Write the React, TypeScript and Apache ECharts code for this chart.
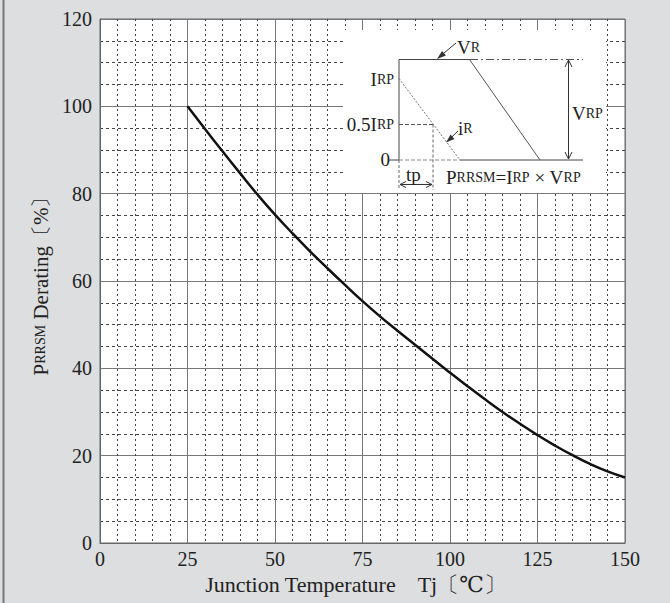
import React, { useEffect, useRef } from "react";
import * as echarts from "echarts";

const tj = [25, 30, 35, 40, 45, 50, 55, 60, 65, 70, 75, 80, 85, 90, 95, 100, 105, 110, 115, 120, 125, 130, 135, 140, 145, 150];
const derating = [100, 94.8, 89.7, 84.7, 79.8, 75.2, 70.9, 66.8, 62.9, 59.1, 55.4, 51.9, 48.6, 45.4, 42.2, 39.0, 35.9, 32.9, 30.0, 27.3, 24.7, 22.3, 20.1, 18.1, 16.4, 15.0];
const xTicks = [0, 25, 50, 75, 100, 125, 150];
const yTicks = [0, 20, 40, 60, 80, 100, 120];

const SERIF = "'Liberation Serif', 'DejaVu Serif', serif";
const INK = "#222";

function line(x1: number, y1: number, x2: number, y2: number, opts: any = {}) {
  return {
    type: "line",
    shape: { x1, y1, x2, y2 },
    style: { stroke: opts.stroke || "#444", lineWidth: opts.w || 1, lineDash: opts.dash || null },
    z: 100,
  };
}
function head(x: number, y: number, dir: string, size = 6) {
  let pts: number[][] = [];
  if (dir === "up") pts = [[x - size / 2, y + size], [x, y], [x + size / 2, y + size]];
  if (dir === "down") pts = [[x - size / 2, y - size], [x, y], [x + size / 2, y - size]];
  if (dir === "left") pts = [[x + size, y - size / 2], [x, y], [x + size, y + size / 2]];
  if (dir === "right") pts = [[x - size, y - size / 2], [x, y], [x - size, y + size / 2]];
  return { type: "polyline", shape: { points: pts }, style: { stroke: "#333", lineWidth: 1, fill: null }, z: 100 };
}
function rtext(x: number, y: number, text: string, align = "left") {
  return {
    type: "text",
    x,
    y,
    z: 101,
    style: {
      text,
      align,
      verticalAlign: "middle",
      fontFamily: SERIF,
      fill: INK,
      rich: {
        b: { fontSize: 19, fontFamily: SERIF, fill: INK },
        s: { fontSize: 14, fontFamily: SERIF, fill: INK },
      },
    },
  };
}

export default function App() {
  const ref = useRef<HTMLDivElement>(null);
  useEffect(() => {
    const chart = echarts.init(ref.current!, null, { renderer: "svg" });
    const data = tj.map((t, i) => [t, derating[i]]);
    chart.setOption({
      animation: false,
      backgroundColor: "#dcdedf",
      grid: {
        left: 100,
        top: 19,
        right: 45,
        bottom: 60,
        show: true,
        backgroundColor: "#ffffff",
        borderColor: "#666",
        borderWidth: 1,
      },
      xAxis: {
        type: "value",
        min: 0,
        max: 150,
        interval: 25,
        name: "Junction Temperature　Tj〔℃〕",
        nameLocation: "middle",
        nameGap: 29,
        nameTextStyle: { fontFamily: SERIF, fontSize: 22, color: INK, padding: [0, 14, 0, 0] },
        axisLine: { show: true, lineStyle: { color: "#666" } },
        axisTick: { show: false },
        axisLabel: {
          fontFamily: SERIF,
          fontSize: 20,
          color: INK,
          margin: 6,
          customValues: xTicks,
        },
        splitLine: { show: true, lineStyle: { color: "#777", width: 1 } },
        minorTick: { show: false, splitNumber: 5 },
        minorSplitLine: { show: true, lineStyle: { color: "#444", width: 1, type: [2, 3] } },
      },
      yAxis: {
        type: "value",
        min: 0,
        max: 120,
        interval: 20,
        name: "{b|P}{s|RRSM} Derating〔%〕",
        nameLocation: "middle",
        nameGap: 47,
        nameTextStyle: {
          fontFamily: SERIF,
          fontSize: 21,
          color: INK,
          rich: {
            b: { fontFamily: SERIF, fontSize: 21, color: INK },
            s: { fontFamily: SERIF, fontSize: 14, color: INK },
          },
        },
        axisLine: { show: true, lineStyle: { color: "#666" } },
        axisTick: { show: false },
        axisLabel: {
          fontFamily: SERIF,
          fontSize: 20,
          color: INK,
          margin: 8,
          customValues: yTicks,
        },
        splitLine: { show: true, lineStyle: { color: "#777", width: 1 } },
        minorTick: { show: false, splitNumber: 4 },
        minorSplitLine: { show: true, lineStyle: { color: "#444", width: 1, type: [3, 3] } },
      },
      series: [
        {
          type: "line",
          data,
          smooth: true,
          showSymbol: false,
          lineStyle: { color: "#111", width: 2.5 },
          z: 5,
        },
      ],
      graphic: [
        { type: "line", shape: { x1: 3.5, y1: 0, x2: 3.5, y2: 603 }, style: { stroke: "#777", lineWidth: 2 } },
        { type: "rect", shape: { x: 343, y: 30, width: 263, height: 163 }, style: { fill: "#fff" }, z: 99 },
        // top V_R line
        line(399, 59.5, 470, 59.5, { stroke: "#444" }),
        line(470, 59.5, 583, 59.5, { stroke: "#555", dash: [8, 3, 2, 3] }),
        // left vertical
        line(399, 59.5, 399, 160, { stroke: "#444" }),
        line(399, 160, 399, 190, { stroke: "#666", dash: [3, 2] }),
        // baseline 0
        line(388, 160, 399, 160, { stroke: "#444" }),
        line(399, 160, 460, 160, { stroke: "#888", dash: [4, 2] }),
        line(460, 160, 583, 160, { stroke: "#444" }),
        // V_R diagonal
        line(469.5, 59.5, 540, 160, { stroke: "#555" }),
        // i_R dotted diagonal
        line(399, 78.5, 460, 160, { stroke: "#777", dash: [2, 1.5] }),
        // 0.5 I_RP dashed
        line(399, 124.5, 433, 124.5, { stroke: "#555", dash: [4, 2] }),
        line(433, 124.5, 433, 190, { stroke: "#666", dash: [3, 2] }),
        // tp arrow
        line(400, 184.5, 432, 184.5, { stroke: "#333" }),
        head(400, 184.5, "left", 6),
        head(432, 184.5, "right", 6),
        // V_RP arrow
        line(568.5, 60, 568.5, 159, { stroke: "#333" }),
        head(568.5, 60, "up", 7),
        head(568.5, 159, "down", 7),
        // V_R pointer
        line(456, 43, 438, 58, { stroke: "#333" }),
        { type: "polygon", shape: { points: [[437, 59], [446, 55.5], [442, 51]] }, style: { fill: "#333" }, z: 100 },
        // i_R pointer
        line(458, 131, 447, 141.5, { stroke: "#333" }),
        { type: "polygon", shape: { points: [[446, 142.5], [454.5, 139], [450.5, 134.5]] }, style: { fill: "#333" }, z: 100 },
        // labels
        rtext(457, 47, "{b|V}{s|R}"),
        rtext(394, 79, "{b|I}{s|RP}", "right"),
        rtext(394, 124.5, "{b|0.5I}{s|RP}", "right"),
        rtext(390, 159, "{b|0}", "right"),
        rtext(458, 128, "{b|i}{s|R}"),
        rtext(572, 113, "{b|V}{s|RP}"),
        rtext(406, 174, "{b|tp}"),
        rtext(446, 177, "{b|P}{s|RRSM}{b|=I}{s|RP}{b| × V}{s|RP}"),
      ],
    });
    return () => chart.dispose();
  }, []);
  return (
    <div
      ref={ref}
      style={{ position: "fixed", left: 0, top: 0, width: 670, height: 603 }}
    />
  );
}
